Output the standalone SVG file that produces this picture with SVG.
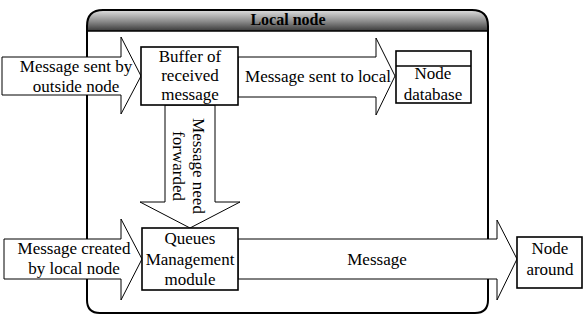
<svg xmlns="http://www.w3.org/2000/svg" width="583" height="324" viewBox="0 0 583 324">
<style>
text{font-family:'Liberation Serif','Times New Roman',serif;font-size:17px;fill:#000;text-anchor:middle}
.title{font-weight:bold;font-size:16px}
.box{fill:#fff;stroke:#000;stroke-width:1.6}
.arr{fill:#fff;stroke:#000;stroke-width:1}
</style>
<defs>
<linearGradient id="hdr" x1="0" y1="0" x2="0" y2="1">
<stop offset="0" stop-color="#e0e0e0"/>
<stop offset="0.55" stop-color="#8a8a8a"/>
<stop offset="1" stop-color="#3a3a3a"/>
</linearGradient>
</defs>
<g id="local-node">
<path d="M87,31 V26 Q87,10 103,10 H472 Q488,10 488,26 V31 Z" fill="url(#hdr)"/>
<path d="M87,26 Q87,10 103,10 H472 Q488,10 488,26 V300 Q488,313 475,313 H100 Q87,313 87,300 Z" fill="none" stroke="#000" stroke-width="2"/>
<line x1="87" y1="31" x2="488" y2="31" stroke="#000" stroke-width="1.5"/>
<text class="title" x="288" y="25">Local node</text>
</g>
<g id="connectors">
<g id="arrow-outside">
<polygon class="arr" points="2,57 121,57 121,37 141,76 121,114 121,95 2,95"/>
<text x="76" y="72">Message sent by</text>
<text x="76" y="92">outside node</text>
</g>
<g id="arrow-local">
<polygon class="arr" points="238,57 376,57 376,38 395,76 376,115 376,97 238,97"/>
<text x="318" y="82">Message sent to local</text>
</g>
<g id="arrow-forward">
<polygon class="arr" points="165,105 215,105 215,202 240,202 190,228 140,202 165,202"/>
<g transform="translate(193,166) rotate(90)">
<text x="0" y="0">Message need</text>
<text x="0" y="20">forwarded</text>
</g>
</g>
<g id="arrow-created">
<polygon class="arr" points="4,239 121,239 121,219 142,259 121,300 121,279 4,279"/>
<text x="74" y="254">Message created</text>
<text x="74" y="274">by local node</text>
</g>
<g id="arrow-message">
<polygon class="arr" points="238,239 497,239 497,220 517,259 497,300 497,279 238,279"/>
<text x="377" y="265">Message</text>
</g>
</g>
<g id="buffer">
<rect class="box" x="141" y="47" width="97" height="58"/>
<text x="190" y="62">Buffer of</text>
<text x="190" y="81">received</text>
<text x="190" y="100">message</text>
</g>
<g id="node-database">
<rect class="box" x="396" y="51" width="75" height="52"/>
<line x1="396" y1="66" x2="471" y2="66" stroke="#000" stroke-width="1.6"/>
<text x="433" y="79">Node</text>
<text x="433" y="100">database</text>
</g>
<g id="queues">
<rect class="box" x="142" y="228" width="96" height="62"/>
<text x="190" y="244">Queues</text>
<text x="190" y="265">Management</text>
<text x="190" y="285">module</text>
</g>
<g id="node-around">
<rect class="box" x="517" y="237" width="65" height="51"/>
<text x="550" y="254">Node</text>
<text x="550" y="275">around</text>
</g>
</svg>
